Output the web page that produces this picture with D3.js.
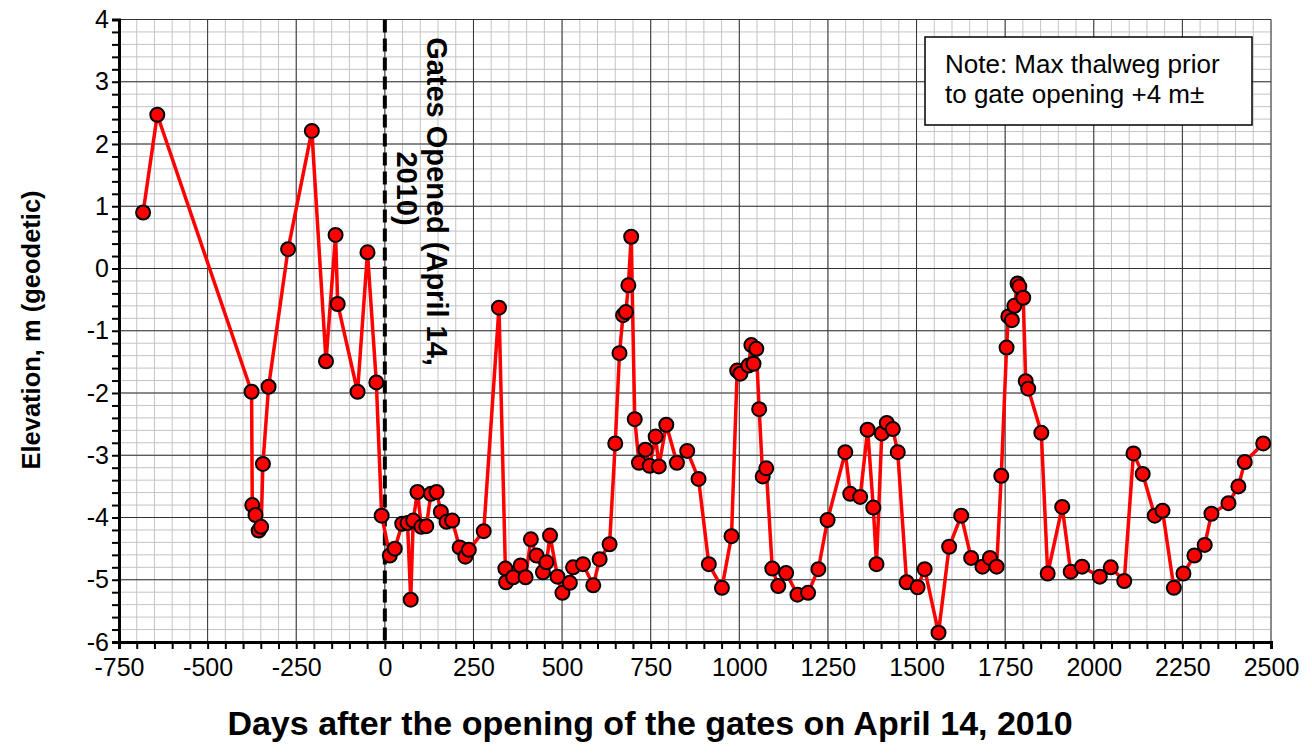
<!DOCTYPE html>
<html>
<head>
<meta charset="utf-8">
<script src="https://cdn.jsdelivr.net/npm/d3@7"></script>
<style>
body { margin: 0; background: #fff; }
text { font-family: "Liberation Sans", Arial, sans-serif; }
</style>
</head>
<body>
<svg id="chart"></svg>
<script>
// survey values
const days = [
    -682, -642, -376, -374, -365, -356, -349, -344, -328, -273, -206, -166, -139, -133, -77, -49, -24, -9,
    14, 28, 49, 64, 73, 80, 92, 103, 117, 130, 146, 158, 174, 190, 211, 227, 237, 279,
    322, 340, 342, 362, 383, 397, 412, 428, 446, 456, 466, 487, 501, 522, 531, 559, 588, 606, 634,
    650, 662, 672, 680, 687, 695, 705, 717, 735, 747, 764, 773, 794, 824, 853, 885, 914, 951, 978,
    994, 1003, 1026, 1034, 1040, 1048, 1056, 1066, 1076, 1093, 1110, 1132, 1164, 1194, 1223, 1249,
    1299, 1313, 1341, 1362, 1378, 1387, 1402, 1416, 1433, 1447, 1472, 1503, 1523, 1562, 1592, 1626,
    1654, 1686, 1707, 1726, 1739, 1754, 1759, 1769, 1776, 1785, 1790, 1801, 1808, 1815, 1852, 1870,
    1911, 1935, 1967, 2017, 2048, 2086, 2112, 2138, 2172, 2194, 2226, 2253, 2284, 2313, 2332, 2380,
    2408, 2426, 2478
];
const elevations = [
    0.90, 2.47, -1.98, -3.80, -3.96, -4.21, -4.15, -3.14, -1.90, 0.31, 2.21, -1.49, 0.54, -0.57, -1.98, 0.26, -1.83, -3.97,
    -4.61, -4.50, -4.10, -4.09, -5.32, -4.05, -3.59, -4.15, -4.14, -3.62, -3.59, -3.91, -4.07, -4.05, -4.48, -4.63, -4.52, -4.22,
    -0.63, -4.82, -5.04, -4.96, -4.77, -4.96, -4.35, -4.61, -4.88, -4.72, -4.29, -4.95, -5.21, -5.05, -4.80, -4.75, -5.09, -4.67, -4.43,
    -2.81, -1.36, -0.75, -0.70, -0.27, 0.51, -2.42, -3.12, -2.91, -3.17, -2.70, -3.18, -2.51, -3.12, -2.93, -3.38, -4.75, -5.13, -4.30,
    -1.64, -1.69, -1.56, -1.23, -1.53, -1.29, -2.26, -3.34, -3.21, -4.82, -5.10, -4.89, -5.24, -5.21, -4.83, -4.04,
    -2.95, -3.62, -3.67, -2.59, -3.84, -4.75, -2.65, -2.48, -2.58, -2.95, -5.04, -5.12, -4.83, -5.85, -4.47, -3.97,
    -4.65, -4.79, -4.65, -4.79, -3.33, -1.27, -0.77, -0.83, -0.60, -0.24, -0.29, -0.47, -1.81, -1.93, -2.64, -4.90,
    -3.83, -4.87, -4.79, -4.95, -4.80, -5.02, -2.97, -3.30, -3.97, -3.89, -5.13, -4.90, -4.61, -4.44, -3.94, -3.77,
    -3.50, -3.11, -2.81
];

const xTicks = d3.range(-750, 2501, 250);
const xMinorTicks = d3.range(-750, 2501, 50);
const yTicks = d3.range(-6, 5, 1);
const yMinorTicks = d3.range(0, 51).map(i => -6 + i * 0.2);

const gateDay = 0;
const gateLabel = ['Gates Opened (April 14,', '2010)'];
const noteLabel = ['Note: Max thalweg prior', 'to gate opening +4 m±'];

class ElevationChart {

    constructor(config, data){
        this.config = {
            parent: config.parent,
            width: config.width || 1312,
            height: config.height || 755,
            margin: config.margin || {top: 19.5, right: 41, bottom: 113, left: 119},
            xlabel: config.xlabel || '',
            ylabel: config.ylabel || ''
        }
        this.data = data;
        this.init();
    }

    init(){
        let self = this;

        self.svg = d3.select(self.config.parent)
            .attr('width', self.config.width)
            .attr('height', self.config.height);

        self.chart = self.svg.append('g')
            .attr('transform', `translate(${self.config.margin.left}, ${self.config.margin.top})`);

        self.inner_width = self.config.width - self.config.margin.left - self.config.margin.right;
        self.inner_height = self.config.height - self.config.margin.top - self.config.margin.bottom;

        self.xscale = d3.scaleLinear()
            .domain([-750, 2500])
            .range([0, self.inner_width]);

        self.yscale = d3.scaleLinear()
            .domain([-6, 4])
            .range([self.inner_height, 0]);

        // grid, minor first
        const grid = self.chart.append('g');
        grid.selectAll('.vminor').data(xMinorTicks).enter()
            .append('line')
            .attr('x1', d => self.xscale(d)).attr('x2', d => self.xscale(d))
            .attr('y1', 0).attr('y2', self.inner_height)
            .attr('stroke', '#c4c4c4').attr('stroke-width', 1);
        grid.selectAll('.hminor').data(yMinorTicks).enter()
            .append('line')
            .attr('x1', 0).attr('x2', self.inner_width)
            .attr('y1', d => self.yscale(d)).attr('y2', d => self.yscale(d))
            .attr('stroke', '#c4c4c4').attr('stroke-width', 1);
        grid.selectAll('.vmajor').data(xTicks).enter()
            .append('line')
            .attr('x1', d => self.xscale(d)).attr('x2', d => self.xscale(d))
            .attr('y1', 0).attr('y2', self.inner_height)
            .attr('stroke', '#333').attr('stroke-width', 1);
        grid.selectAll('.hmajor').data(yTicks).enter()
            .append('line')
            .attr('x1', 0).attr('x2', self.inner_width)
            .attr('y1', d => self.yscale(d)).attr('y2', d => self.yscale(d))
            .attr('stroke', '#333').attr('stroke-width', 1);

        // axes
        const isMajorY = d => Math.abs(d - Math.round(d)) < 1e-6;
        self.xaxis = d3.axisBottom(self.xscale)
            .tickValues(xMinorTicks)
            .tickSize(7)
            .tickPadding(9)
            .tickFormat(d => d % 250 === 0 ? d : '');
        self.yaxis = d3.axisLeft(self.yscale)
            .tickValues(yMinorTicks)
            .tickSize(7)
            .tickPadding(3)
            .tickFormat(d => isMajorY(d) ? Math.round(d) : '');

        self.xaxis_group = self.chart.append('g')
            .attr('transform', `translate(0, ${self.inner_height})`)
            .call(self.xaxis);
        self.yaxis_group = self.chart.append('g')
            .call(self.yaxis);

        [self.xaxis_group, self.yaxis_group].forEach(g => {
            g.select('.domain').attr('stroke', '#000').attr('stroke-width', 3);
            g.selectAll('.tick line').attr('stroke', '#000').attr('stroke-width', 2);
            g.selectAll('.tick text')
                .attr('fill', '#000')
                .style('font-family', '"Liberation Sans", Arial, sans-serif')
                .style('font-size', '25px');
        });

        // axis titles
        self.svg.append('text')
            .attr('x', 650)
            .attr('y', 735)
            .attr('text-anchor', 'middle')
            .style('font-size', '34px')
            .style('font-weight', 'bold')
            .text(self.config.xlabel);

        self.svg.append('text')
            .attr('transform', 'rotate(-90)')
            .attr('x', -330)
            .attr('y', 40)
            .attr('text-anchor', 'middle')
            .style('font-size', '25.5px')
            .style('font-weight', 'bold')
            .text(self.config.ylabel);
    }

    render(){
        let self = this;

        // gate opening marker
        self.chart.append('line')
            .attr('x1', self.xscale(gateDay)).attr('x2', self.xscale(gateDay))
            .attr('y1', 0).attr('y2', self.inner_height)
            .attr('stroke', '#000')
            .attr('stroke-width', 4)
            .attr('stroke-dasharray', '13,6');

        const gx = self.xscale(gateDay) + 42;
        const gy = 182;
        const gate = self.chart.append('text')
            .attr('transform', `translate(${gx}, ${gy}) rotate(90)`)
            .attr('text-anchor', 'middle')
            .style('font-size', '29px')
            .style('font-weight', 'bold');
        gate.selectAll('tspan').data(gateLabel).enter()
            .append('tspan')
            .attr('x', (d, i) => i === 0 ? 0 : -13)
            .attr('dy', (d, i) => i === 0 ? 0 : '1.02em')
            .text(d => d);

        const line = d3.line()
            .x(d => self.xscale(d.day))
            .y(d => self.yscale(d.elev));

        self.chart.append('path')
            .datum(self.data)
            .attr('fill', 'none')
            .attr('stroke', '#ff0000')
            .attr('stroke-width', 3.5)
            .attr('stroke-linejoin', 'round')
            .attr('d', line);

        self.chart.selectAll('circle').data(self.data).enter()
            .append('circle')
            .attr('cx', d => self.xscale(d.day))
            .attr('cy', d => self.yscale(d.elev))
            .attr('r', 7)
            .attr('fill', '#ff0000')
            .attr('stroke', '#000')
            .attr('stroke-width', 2);

        // note box
        const note = self.svg.append('g');
        note.append('rect')
            .attr('x', 925).attr('y', 37)
            .attr('width', 327).attr('height', 88)
            .attr('fill', '#fff')
            .attr('stroke', '#000')
            .attr('stroke-width', 1.5);
        note.selectAll('text').data(noteLabel).enter()
            .append('text')
            .attr('x', 945)
            .attr('y', (d, i) => 73 + i * 30)
            .style('font-size', '26px')
            .text(d => d);
    }
}

const data = days.map((d, i) => ({day: d, elev: elevations[i]}));

const chart = new ElevationChart({
    parent: '#chart',
    width: 1312,
    height: 755,
    xlabel: 'Days after the opening of the gates on April 14, 2010',
    ylabel: 'Elevation, m (geodetic)'
}, data);
chart.render();
</script>
</body>
</html>
